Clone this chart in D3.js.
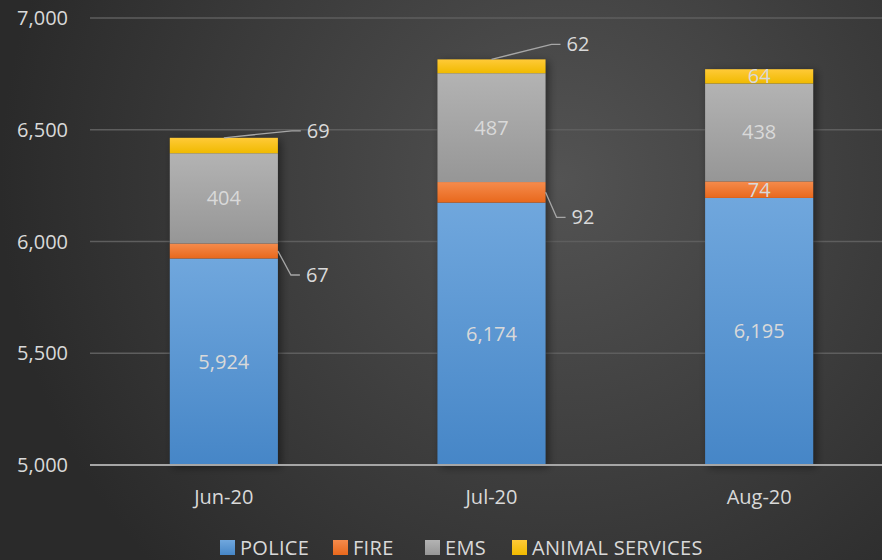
<!DOCTYPE html>
<html lang="en">
<head>
    <meta charset="UTF-8">
    <title>Calls by Service</title>
    <script src="https://d3js.org/d3.v7.min.js"></script>
    <style>
        html, body { margin: 0; padding: 0; background: #333; }
        svg { display: block; }
        text { font-family: "Open Sans", sans-serif; }
    </style>
</head>
<body>
    <svg width="882" height="560"></svg>

    <script>
        // data
        const months = ["Jun-20", "Jul-20", "Aug-20"];
        const seriesNames = ["POLICE", "FIRE", "EMS", "ANIMAL SERVICES"];
        const police = [5924, 6174, 6195];
        const fire = [67, 92, 74];
        const ems = [404, 487, 438];
        const animal = [69, 62, 64];
        const yTicks = [5000, 5500, 6000, 6500, 7000];

        const colors = {
            "POLICE": ["#70a7dd", "#4686c7"],
            "FIRE": ["#f58b4c", "#e8681c"],
            "EMS": ["#b3b3b3", "#969696"],
            "ANIMAL SERVICES": ["#ffca38", "#f0ba00"]
        };

        const svg = d3.select("svg");
        const width = +svg.attr("width");
        const height = +svg.attr("height");

        const defs = svg.append("defs");

        // background gradient
        const bg = defs.append("radialGradient")
            .attr("id", "bg")
            .attr("gradientUnits", "userSpaceOnUse")
            .attr("cx", 560).attr("cy", 180).attr("r", 560);
        bg.append("stop").attr("offset", "0%").attr("stop-color", "#535353");
        bg.append("stop").attr("offset", "100%").attr("stop-color", "#2a2a2a");

        svg.append("rect")
            .attr("width", width)
            .attr("height", height)
            .attr("fill", "url(#bg)");

        seriesNames.forEach((s, i) => {
            const g = defs.append("linearGradient")
                .attr("id", "grad" + i)
                .attr("x1", 0).attr("y1", 0).attr("x2", 0).attr("y2", 1);
            g.append("stop").attr("offset", "0%").attr("stop-color", colors[s][0]);
            g.append("stop").attr("offset", "100%").attr("stop-color", colors[s][1]);
        });

        const shadow = defs.append("filter")
            .attr("id", "shadow")
            .attr("x", "-20%").attr("y", "-20%")
            .attr("width", "150%").attr("height", "140%");
        shadow.append("feDropShadow")
            .attr("dx", 3).attr("dy", 2)
            .attr("stdDeviation", 4)
            .attr("flood-color", "#000")
            .attr("flood-opacity", 0.45);

        const rows = months.map((m, i) => ({
            month: m,
            "POLICE": police[i],
            "FIRE": fire[i],
            "EMS": ems[i],
            "ANIMAL SERVICES": animal[i]
        }));

        const margin = { left: 90, right: -11, top: 18, bottom: 95 };
        const yMin = 5000;

        const x = d3.scaleBand()
            .domain(months)
            .range([margin.left, width - margin.right])
            .paddingInner(0.596)
            .paddingOuter(0.298);

        const y = d3.scaleLinear()
            .domain([yMin, 7000])
            .range([height - margin.bottom, margin.top]);

        // values below the axis floor are clipped to it
        const yc = v => y(Math.max(v, yMin));

        // gridlines
        svg.append("g")
            .selectAll("line")
            .data(yTicks.filter(t => t !== yMin))
            .enter().append("line")
            .attr("x1", margin.left)
            .attr("x2", width)
            .attr("y1", d => y(d))
            .attr("y2", d => y(d))
            .attr("stroke", "#5e5e5e")
            .attr("stroke-width", 1.3);

        // y tick labels
        svg.append("g")
            .selectAll("text")
            .data(yTicks)
            .enter().append("text")
            .attr("x", 68)
            .attr("y", d => y(d))
            .attr("dy", "0.35em")
            .attr("text-anchor", "end")
            .attr("fill", "#d9d9d9")
            .attr("font-size", 20)
            .text(d => d3.format(",")(d));

        const stack = d3.stack().keys(seriesNames);
        const stacked = stack(rows);

        // shadow under the whole bar
        svg.append("g")
            .selectAll("rect")
            .data(rows)
            .enter().append("rect")
            .attr("x", d => x(d.month))
            .attr("width", x.bandwidth())
            .attr("y", d => y(d3.sum(seriesNames, s => d[s])))
            .attr("height", d => y(yMin) - y(d3.sum(seriesNames, s => d[s])))
            .attr("fill", "#2d2d2d")
            .attr("filter", "url(#shadow)");

        const layer = svg.append("g")
            .selectAll("g")
            .data(stacked)
            .enter().append("g")
            .attr("fill", (d, i) => `url(#grad${i})`);

        layer.selectAll("rect")
            .data(d => d)
            .enter().append("rect")
            .attr("x", d => x(d.data.month))
            .attr("width", x.bandwidth())
            .attr("y", d => yc(d[1]))
            .attr("height", d => yc(d[0]) - yc(d[1]));

        // baseline axis
        svg.append("line")
            .attr("x1", margin.left)
            .attr("x2", width)
            .attr("y1", y(yMin))
            .attr("y2", y(yMin))
            .attr("stroke", "#a6a6a6")
            .attr("stroke-width", 2);

        // x labels
        svg.append("g")
            .selectAll("text")
            .data(months)
            .enter().append("text")
            .attr("x", d => x(d) + x.bandwidth() / 2)
            .attr("y", y(yMin) + 32)
            .attr("dy", "0.35em")
            .attr("text-anchor", "middle")
            .attr("fill", "#d9d9d9")
            .attr("font-size", 20)
            .text(d => d);

        // data labels; small segments of the first two bars use callouts
        const callouts = {
            "Jun-20|FIRE": { dx: 13, dy: 24, from: "right" },
            "Jun-20|ANIMAL SERVICES": { dx: 68, dy: -7, from: "top" },
            "Jul-20|FIRE": { dx: 11, dy: 25, from: "right" },
            "Jul-20|ANIMAL SERVICES": { dx: 60, dy: -15, from: "top" }
        };

        const labels = svg.append("g");
        stacked.forEach(series => {
            series.forEach(d => {
                const key = d.data.month + "|" + series.key;
                const value = d.data[series.key];
                const cx = x(d.data.month) + x.bandwidth() / 2;
                const midY = (yc(d[0]) + yc(d[1])) / 2;
                const c = callouts[key];
                if (!c) {
                    labels.append("text")
                        .attr("x", cx)
                        .attr("y", midY)
                        .attr("dy", "0.35em")
                        .attr("text-anchor", "middle")
                        .attr("fill", "#d9d9d9")
                        .attr("font-size", 20)
                        .text(d3.format(",")(value));
                    return;
                }
                const sx = c.from === "top" ? cx : x(d.data.month) + x.bandwidth();
                const sy = c.from === "top" ? yc(d[1]) : midY;
                const ex = sx + c.dx;
                const ey = sy + c.dy;
                labels.append("polyline")
                    .attr("points", `${sx},${sy} ${ex},${ey} ${ex + 9},${ey}`)
                    .attr("fill", "none")
                    .attr("stroke", "#a6a6a6")
                    .attr("stroke-width", 1.3);
                labels.append("text")
                    .attr("x", ex + 15)
                    .attr("y", ey)
                    .attr("dy", "0.35em")
                    .attr("fill", "#d9d9d9")
                    .attr("font-size", 20)
                    .text(d3.format(",")(value));
            });
        });

        // legend
        const legendX = [220, 333, 425, 512];
        const legend = svg.append("g")
            .selectAll("g")
            .data(seriesNames)
            .enter().append("g")
            .attr("transform", (d, i) => `translate(${legendX[i]},540)`);

        legend.append("rect")
            .attr("width", 15)
            .attr("height", 15)
            .attr("fill", (d, i) => `url(#grad${i})`);

        legend.append("text")
            .attr("x", 20)
            .attr("y", 8)
            .attr("dy", "0.33em")
            .attr("fill", "#d9d9d9")
            .attr("font-size", 20)
            .attr("letter-spacing", 0.3)
            .text(d => d);
    </script>
</body>
</html>
